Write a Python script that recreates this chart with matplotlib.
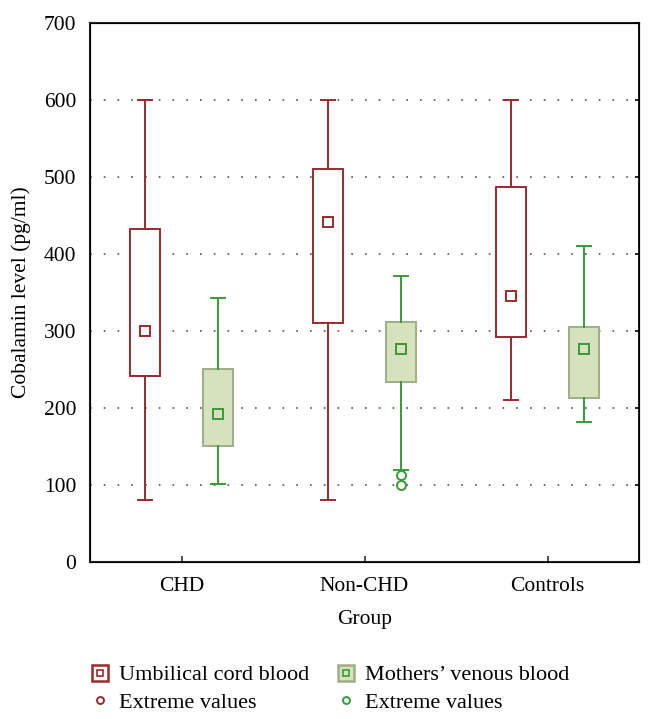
import matplotlib
matplotlib.use("Agg")
import matplotlib.pyplot as plt
from matplotlib.lines import Line2D
from matplotlib.legend_handler import HandlerTuple

plt.rcParams['font.family'] = ['Liberation Serif', 'DejaVu Serif']

groups = ["CHD", "Non-CHD", "Controls"]

# umbilical cord blood: whisker low, q1, centre, q3, whisker high
cord_low = [80, 80, 210]
cord_q1 = [241, 310, 292]
cord_mid = [300, 441, 346]
cord_q3 = [433, 510, 487]
cord_high = [600, 600, 600]
cord_out = [[], [], []]

# mothers' venous blood
moth_low = [101, 119, 182]
moth_q1 = [151, 234, 213]
moth_mid = [192, 276, 277]
moth_q3 = [251, 312, 305]
moth_high = [343, 371, 410]
moth_out = [[], [113, 100], []]

RED = "#9a2a2c"
GREEN = "#3a9a3a"
GFILL = "#d6e2bc"
GEDGE = "#9fae88"
FS = 15.5

def stats(low, q1, mid, q3, high, out):
    res = []
    for i in range(len(low)):
        res.append(dict(whislo=low[i], q1=q1[i], med=mid[i], mean=mid[i],
                        q3=q3[i], whishi=high[i], fliers=out[i]))
    return res

fig = plt.figure(figsize=(6.54, 7.19), dpi=100)
ax = fig.add_axes([90/654, 1-562/719, 549/654, 539/719])

for y in range(100, 700, 100):
    ax.axhline(y, color="#444444", lw=1.1, dashes=(1.1, 7.9), zorder=0)

pos = [1, 2, 3]
w = 0.16
ax.bxp(stats(cord_low, cord_q1, cord_mid, cord_q3, cord_high, cord_out),
       positions=[p - 0.2 for p in pos], widths=w, patch_artist=True,
       showmeans=True, showfliers=True,
       boxprops=dict(facecolor="white", edgecolor=RED, lw=1.4),
       whiskerprops=dict(color=RED, lw=1.4), capprops=dict(color=RED, lw=1.4),
       medianprops=dict(lw=0), capwidths=0.075,
       meanprops=dict(marker="s", markersize=7, markerfacecolor="white",
                      markeredgecolor=RED, markeredgewidth=1.4),
       flierprops=dict(marker="o", markerfacecolor="white", markeredgecolor=RED,
                       markersize=6, markeredgewidth=1.4))
ax.bxp(stats(moth_low, moth_q1, moth_mid, moth_q3, moth_high, moth_out),
       positions=[p + 0.2 for p in pos], widths=w, patch_artist=True,
       showmeans=True, showfliers=True,
       boxprops=dict(facecolor=GFILL, edgecolor=GEDGE, lw=1.4),
       whiskerprops=dict(color=GREEN, lw=1.4), capprops=dict(color=GREEN, lw=1.4),
       medianprops=dict(lw=0), capwidths=0.075,
       meanprops=dict(marker="s", markersize=7, markerfacecolor=GFILL,
                      markeredgecolor=GREEN, markeredgewidth=1.4),
       flierprops=dict(marker="o", markerfacecolor="white", markeredgecolor=GREEN,
                       markersize=6.5, markeredgewidth=1.4))

ax.set_xlim(0.5, 3.5)
ax.set_ylim(0, 700)
ax.set_xticks(pos)
ax.set_xticklabels(groups)
ax.set_yticks(range(0, 800, 100))
ax.tick_params(axis="x", direction="in", length=4, width=1.2, labelsize=FS, pad=11, color="#333333")
ax.tick_params(axis="y", direction="in", length=0, labelsize=FS, pad=10, right=True)
for s in ax.spines.values():
    s.set_linewidth(1.5)
    s.set_color("#222222")
ax.set_xlabel("Group", fontsize=FS, labelpad=10)
ax.set_ylabel("Cobalamin level (pg/ml)", fontsize=FS, labelpad=9)
# right-side small inward ticks
ax2 = ax.twinx()
ax2.set_ylim(0, 700)
ax2.set_yticks(range(0, 800, 100))
ax2.tick_params(axis="y", direction="in", length=3, width=1.2, labelright=False)

h1 = (Line2D([], [], ls="none", marker="s", markersize=11, markerfacecolor="white",
             markeredgecolor=RED, markeredgewidth=1.8),
      Line2D([], [], ls="none", marker="s", markersize=5, markerfacecolor="white",
             markeredgecolor=RED, markeredgewidth=1.2))
h2 = Line2D([], [], ls="none", marker="o", markersize=5, markerfacecolor="white",
            markeredgecolor=RED, markeredgewidth=1.4)
h3 = (Line2D([], [], ls="none", marker="s", markersize=11, markerfacecolor=GFILL,
             markeredgecolor=GEDGE, markeredgewidth=1.8),
      Line2D([], [], ls="none", marker="s", markersize=5, markerfacecolor=GFILL,
             markeredgecolor=GREEN, markeredgewidth=1.2))
h4 = Line2D([], [], ls="none", marker="o", markersize=5, markerfacecolor="white",
            markeredgecolor=GREEN, markeredgewidth=1.4)

kw = dict(loc="upper left", frameon=False, fontsize=16, handlelength=1.0,
          handletextpad=0.35, labelspacing=0.3, borderaxespad=0,
          handler_map={tuple: HandlerTuple(ndivide=1, pad=0)})
fig.legend([h1, h2], ["Umbilical cord blood", "Extreme values"],
           bbox_to_anchor=(80/654, 1-656/719), **kw)
fig.legend([h3, h4], ["Mothers\u2019 venous blood", "Extreme values"],
           bbox_to_anchor=(326/654, 1-656/719), **kw)

fig.savefig("out.png", dpi=100)
